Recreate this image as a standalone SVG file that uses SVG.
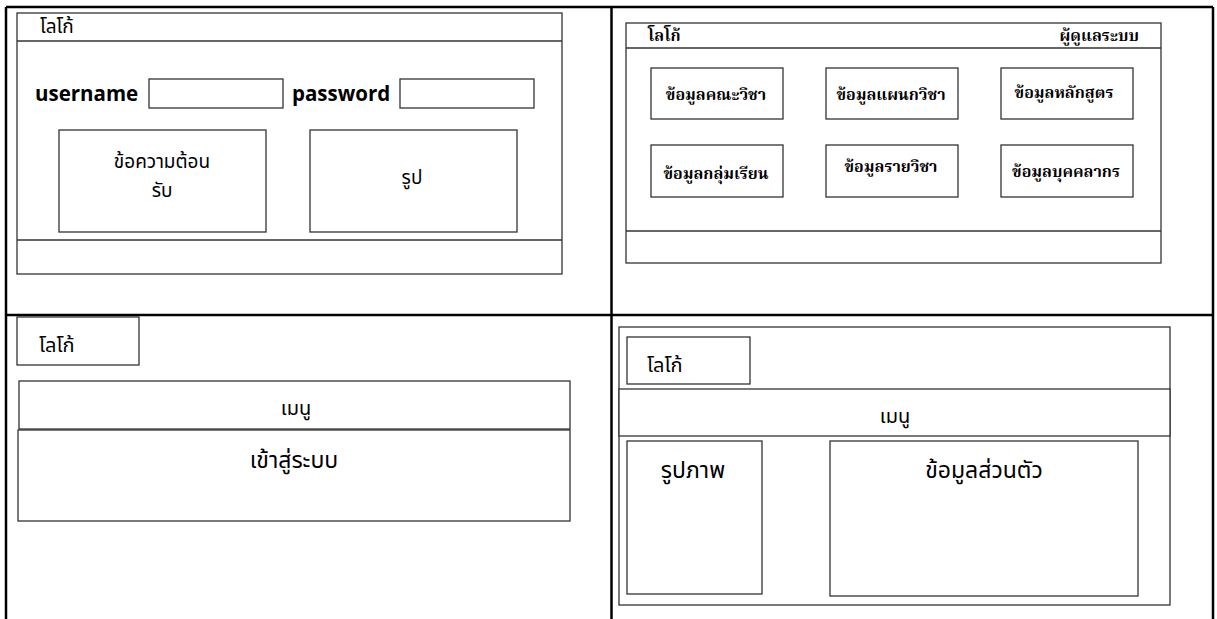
<svg xmlns="http://www.w3.org/2000/svg" width="1217" height="619" viewBox="0 0 1217 619">
<style>
.bg{fill:#ffffff}
.tbl{stroke:#000;stroke-width:2.5;fill:none}
.box{fill:#fff;stroke:#333;stroke-width:1.3}
.ln{stroke:#333;stroke-width:1.3}
.s1{font-family:"Noto Sans Thai","Noto Sans","Open Sans",sans-serif;font-size:19px;fill:#000}
.lbl{font-family:"Open Sans","Noto Sans",sans-serif;font-size:20.5px;font-weight:bold;fill:#000}
.s2{font-family:"Noto Serif Thai","Liberation Serif",serif;font-size:16px;font-weight:bold;fill:#000}
.s3{font-family:"Noto Sans Thai","Liberation Sans",sans-serif;font-size:20px;fill:#000}
.s4{font-family:"Noto Sans Thai","Liberation Sans",sans-serif;font-size:23px;fill:#000}
.c{text-anchor:middle}
</style>
<rect class="bg" x="0" y="0" width="1217" height="619"/>
<g id="table-grid">
<line class="tbl" x1="6" y1="7" x2="1213" y2="7"/>
<line class="tbl" x1="6" y1="7" x2="6" y2="619"/>
<line class="tbl" x1="1213" y1="7" x2="1213" y2="619"/>
<line class="tbl" x1="611.5" y1="7" x2="611.5" y2="619"/>
<line class="tbl" x1="6" y1="315" x2="1213" y2="315"/>
</g>
<g id="login-page">
<rect class="box" x="17" y="13" width="545" height="261"/>
<line class="ln" x1="17" y1="41" x2="562" y2="41"/>
<line class="ln" x1="17" y1="240" x2="562" y2="240"/>
<text class="s1" x="40" y="33">โลโก้</text>
<text class="lbl" x="35" y="101">username</text>
<rect class="box" x="149" y="79" width="134" height="29"/>
<text class="lbl" x="292" y="101">password</text>
<rect class="box" x="400" y="79" width="134" height="29"/>
<g id="welcome-box">
<rect class="box" x="59" y="130" width="207" height="102"/>
<text class="s1 c" x="162" y="168">ข้อความต้อน</text>
<text class="s1 c" x="162" y="197">รับ</text>
</g>
<g id="picture-box">
<rect class="box" x="310" y="130" width="207" height="102"/>
<text class="s1 c" x="412" y="184">รูป</text>
</g>
</g>
<g id="admin-page">
<rect class="box" x="626" y="23" width="535" height="240"/>
<line class="ln" x1="626" y1="48" x2="1161" y2="48"/>
<line class="ln" x1="626" y1="231" x2="1161" y2="231"/>
<text class="s2" x="648" y="41">โลโก้</text>
<text class="s2" x="1139" y="41" text-anchor="end">ผู้ดูแลระบบ</text>
<g id="faculty"><rect class="box" x="651" y="68" width="132" height="51"/><text class="s2 c" x="716" y="100">ข้อมูลคณะวิชา</text></g>
<g id="department"><rect class="box" x="826" y="68" width="132" height="51"/><text class="s2 c" x="891" y="100">ข้อมูลแผนกวิชา</text></g>
<g id="curriculum"><rect class="box" x="1001" y="68" width="132" height="51"/><text class="s2 c" x="1064" y="98">ข้อมูลหลักสูตร</text></g>
<g id="class-group"><rect class="box" x="651" y="145" width="132" height="52"/><text class="s2 c" x="716" y="179">ข้อมูลกลุ่มเรียน</text></g>
<g id="subject"><rect class="box" x="826" y="145" width="132" height="52"/><text class="s2 c" x="891" y="172">ข้อมูลรายวิชา</text></g>
<g id="personnel"><rect class="box" x="1001" y="145" width="132" height="52"/><text class="s2 c" x="1066" y="177">ข้อมูลบุคคลากร</text></g>
</g>
<g id="home-page">
<rect class="box" x="17" y="317" width="122" height="48"/>
<text class="s3" x="39" y="352">โลโก้</text>
<g id="menu-1"><rect class="box" x="19" y="381" width="551" height="48"/><text class="s3 c" x="296" y="415">เมนู</text></g>
<g id="login-content"><rect class="box" x="18" y="430" width="552" height="91"/><text class="s4 c" x="294" y="468">เข้าสู่ระบบ</text></g>
</g>
<g id="profile-page">
<rect class="box" x="619" y="327" width="551" height="278"/>
<rect class="box" x="627" y="337" width="123" height="47"/>
<text class="s3" x="647" y="372">โลโก้</text>
<g id="menu-2"><rect class="box" x="619" y="389" width="551" height="47"/><text class="s3 c" x="895" y="423">เมนู</text></g>
<g id="photo"><rect class="box" x="627" y="441" width="135" height="153"/><text class="s4 c" x="693" y="478">รูปภาพ</text></g>
<g id="personal-info"><rect class="box" x="830" y="441" width="308" height="155"/><text class="s4 c" x="984" y="478">ข้อมูลส่วนตัว</text></g>
</g>
</svg>
